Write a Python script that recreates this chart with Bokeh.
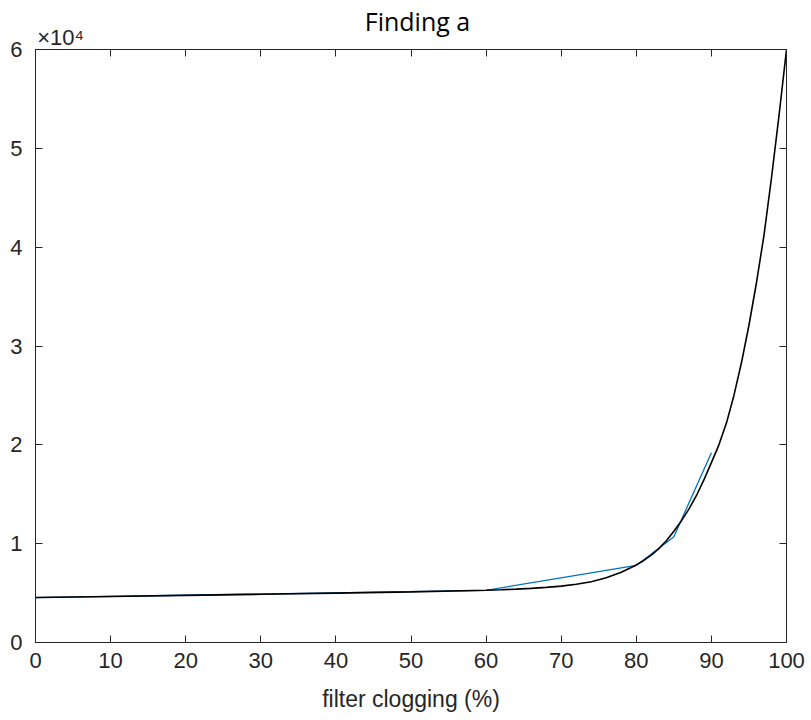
from bokeh.plotting import figure
from bokeh.models import Range1d, LinearAxis, FixedTicker
from bokeh.embed import file_html
from bokeh.resources import INLINE

# --- data ---
fit_x = [0, 10, 20, 30, 40, 50, 60, 62, 64, 66, 68, 70, 72, 74, 76, 78, 80, 81, 82, 83, 84,
         85, 86, 87, 88, 89, 90, 91, 92, 93, 94, 95, 96, 97, 98, 99, 100]
fit_y = [4550, 4660, 4770, 4880, 5000, 5120, 5280, 5330, 5400, 5480, 5580, 5700, 5900, 6150,
         6550, 7100, 7850, 8300, 8850, 9500, 10300, 11250, 12300, 13500, 14850, 16450, 18200,
         20000, 22200, 25000, 28300, 32100, 36400, 41200, 47000, 53300, 60000]

meas_x = [0, 60, 80, 85, 90]
meas_y = [4550, 5280, 7800, 10700, 19200]

x_ticks = [0, 10, 20, 30, 40, 50, 60, 70, 80, 90, 100]
y_ticks = [0, 10000, 20000, 30000, 40000, 50000, 60000]
y_tick_labels = ["0", "1", "2", "3", "4", "5", "6"]
exponent_label = "×10⁴"

title_text = "Finding a"
x_label = "filter clogging (%)"

AX = "#262626"
TICK_FONT = "Liberation Sans"
NBSP = "\u00a0"

p = figure(width=811, height=720, output_backend="svg", toolbar_location=None,
           x_range=Range1d(0, 100), y_range=Range1d(0, 60000),
           min_border_left=35, min_border_right=25, min_border_top=49, min_border_bottom=78)

p.xgrid.visible = False
p.ygrid.visible = False
p.outline_line_color = AX
p.outline_line_width = 1
p.background_fill_color = "white"
p.border_fill_color = "white"

xa = p.xaxis[0]
xa.ticker = FixedTicker(ticks=x_ticks)
xa.axis_label = x_label
ya = p.yaxis[0]
ya.ticker = FixedTicker(ticks=y_ticks)
ya.major_label_overrides = {t: l for t, l in zip(y_ticks, y_tick_labels)}

for ax in (xa, ya):
    ax.major_tick_in = 7
    ax.major_tick_out = 0
    ax.minor_tick_line_color = None
    ax.axis_line_color = AX
    ax.major_tick_line_color = AX
    ax.major_label_text_color = AX
    ax.major_label_text_font = TICK_FONT
    ax.major_label_text_font_size = "22px"
    ax.axis_label_text_font = TICK_FONT
    ax.axis_label_text_font_size = "23px"
    ax.axis_label_text_font_style = "normal"
    ax.axis_label_text_color = AX

xa.major_label_standoff = 10
xa.axis_label_standoff = 15
ya.major_label_standoff = 13

# top axis: ticks, the MATLAB-style exponent at its left end, and the title above
# (tick labels are centred on the tick, so non-breaking spaces push the text right)
top = LinearAxis(ticker=FixedTicker(ticks=x_ticks))
top.major_label_overrides = {t: (NBSP * 6 + exponent_label if t == 0 else "") for t in x_ticks}
top.major_label_text_font = TICK_FONT
top.major_label_text_font_size = "22px"
top.major_label_text_color = AX
top.major_label_standoff = 0
top.axis_label = NBSP * 2 + title_text
top.axis_label_text_font = "Open Sans"
top.axis_label_text_font_size = "25px"
top.axis_label_text_font_style = "normal"
top.axis_label_text_color = "black"
top.axis_label_standoff = -16

right = LinearAxis(ticker=FixedTicker(ticks=y_ticks))
right.major_label_overrides = {t: "" for t in y_ticks}
right.major_label_standoff = 0

for ax in (top, right):
    ax.major_tick_in = 7
    ax.major_tick_out = 0
    ax.minor_tick_line_color = None
    ax.axis_line_color = AX
    ax.major_tick_line_color = AX
p.add_layout(top, "above")
p.add_layout(right, "right")

p.line(meas_x, meas_y, line_color="#0072BD", line_width=1.3)
p.line(fit_x, fit_y, line_color="black", line_width=1.6)

open("out.html", "w").write(file_html(p, INLINE))
